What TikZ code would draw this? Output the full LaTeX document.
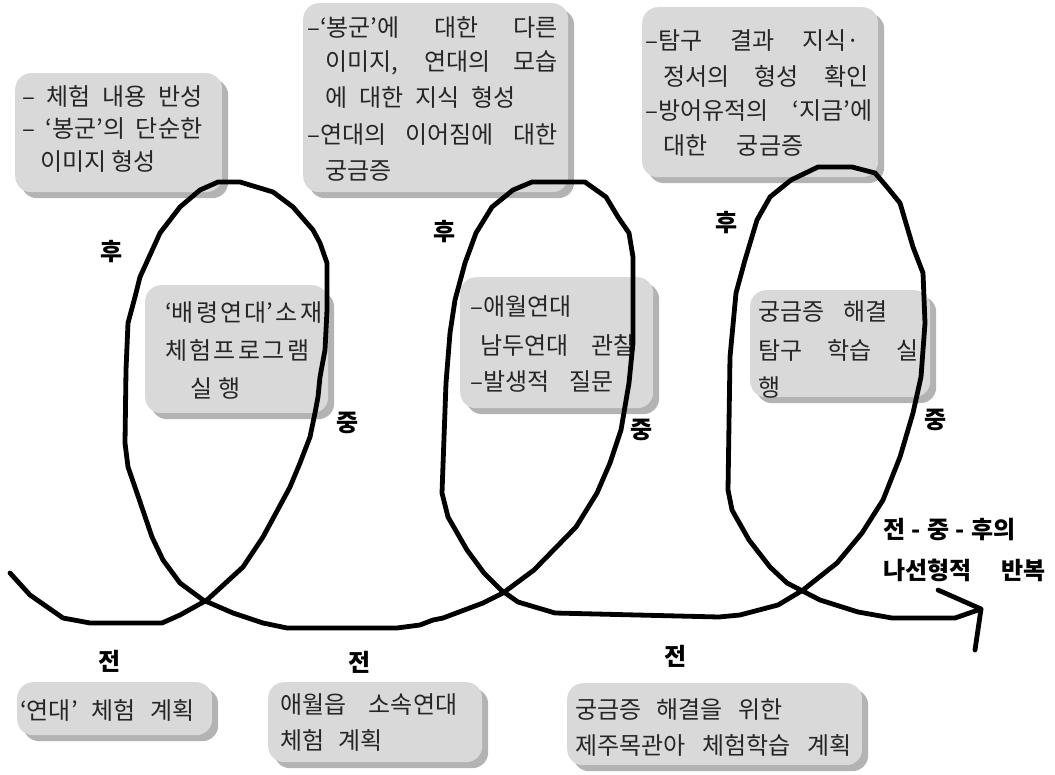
\documentclass[tikz,border=0pt]{standalone}
\usepackage{fontspec}
\setmainfont{Noto Sans CJK KR}
\usetikzlibrary{shadows}
\definecolor{boxc}{HTML}{D9D9D9}
\definecolor{shadowc}{HTML}{B3B3B3}
\newcommand{\J}[2]{\makebox[#1pt][s]{#2}}
\begin{document}
\begin{tikzpicture}[x=1pt,y=-1pt,
  bx/.style={rectangle, rounded corners=16pt, fill=boxc, draw=none, inner sep=0pt, anchor=north west,
    drop shadow={shadow xshift=6pt, shadow yshift=-6pt, fill=shadowc, opacity=1}},
  tl/.style={anchor=west, inner sep=0pt, font=\fontsize{24}{24}\selectfont, text=black!85},
  lab/.style={inner sep=0pt, font=\fontsize{24}{24}\selectfont\bfseries},
  curve/.style={line width=4.8pt, line join=round, line cap=round}]
\useasboundingbox (0,0) rectangle (1055,775);
\fill[white] (0,0) rectangle (1055,775);

% boxes
\node[bx, minimum width=207pt, minimum height=119pt] (b1) at (15,73) {};
\node[bx, minimum width=265pt, minimum height=189pt] (b2) at (303,3) {};
\node[bx, minimum width=236pt, minimum height=170pt] (b3) at (642,7) {};
\node[bx, minimum width=183pt, minimum height=128pt] (b4) at (145,285) {};
\node[bx, minimum width=193pt, minimum height=131pt] (b5) at (460,277) {};
\node[bx, minimum width=180pt, minimum height=107pt] (b6) at (750,290) {};
\node[bx, minimum width=195pt, minimum height=53pt] (b7) at (17,682) {};
\node[bx, minimum width=214pt, minimum height=80pt] (b8) at (268,682) {};
\node[bx, minimum width=295pt, minimum height=82pt] (b9) at (567,683) {};

% box 1
\node[tl] (t1a) at (22,96) {\J{180}{– 체험 내용 반성}};
\node[tl] (t1b) at (22,129) {\J{180}{– ‘봉군’의 단순한}};
\node[tl] (t1c) at (40,161) {이미지 형성};
% box 2
\node[tl] (t2a) at (307,28) {\J{250}{–‘봉군’에 대한 다른}};
\node[tl] (t2b) at (325,63) {\J{232}{이미지, 연대의 모습}};
\node[tl] (t2c) at (325,97) {\J{190}{에 대한 지식 형성}};
\node[tl] (t2d) at (307,135) {\J{250}{–연대의 이어짐에 대한}};
\node[tl] (t2e) at (325,171) {궁금증};
% box 3
\node[tl] (t3a) at (645,41) {\J{215}{–탐구 결과 지식·}};
\node[tl] (t3b) at (663,76) {\J{205}{정서의 형성 확인}};
\node[tl] (t3c) at (645,111) {\J{227}{–방어유적의 ‘지금’에}};
\node[tl] (t3d) at (663,146) {\J{140}{대한 궁금증}};
% box 4
\node[tl] (t4a) at (165,313) {\makebox[157pt][s]{‘배\hfill 령\hfill 연\hfill 대’\hfill 소\hfill 재}};
\node[tl] (t4b) at (165,350) {\makebox[144pt][s]{체\hfill 험\hfill 프\hfill 로\hfill 그\hfill 램}};
\node[tl] (t4c) at (190,388) {\makebox[50pt][s]{실\hfill 행}};
% box 5
\node[tl] (t5a) at (470,307) {–애월연대};
\node[tl] (t5b) at (480,345) {\J{155}{남두연대 관찰}};
\node[tl] (t5c) at (470,382) {\J{143}{–발생적 질문}};
% box 6
\node[tl] (t6a) at (758,312) {\J{129}{궁금증 해결}};
\node[tl] (t6b) at (758,350) {\J{160}{탐구 학습 실}};
\node[tl] (t6c) at (758,387) {행};
% box 7
\node[tl] (t7a) at (20,710) {\J{174}{‘연대’ 체험 계획}};
% box 8
\node[tl] (t8a) at (280,705) {\J{177}{애월읍 소속연대}};
\node[tl] (t8b) at (280,740) {\J{102}{체험 계획}};
% box 9
\node[tl] (t9a) at (575,710) {\J{207}{궁금증 해결을 위한}};
\node[tl] (t9b) at (575,745) {\J{276}{제주목관아 체험학습 계획}};

% labels
\node[lab] (h1) at (112,252) {후};
\node[lab] (h2) at (445,232) {후};
\node[lab] (h3) at (727,223) {후};
\node[lab] (m1) at (348,423) {중};
\node[lab] (m2) at (642,430) {중};
\node[lab] (m3) at (936,420) {중};
\node[lab] (s1) at (110,661) {전};
\node[lab] (s2) at (360,662) {전};
\node[lab] (s3) at (676,656) {전};
\node[lab, anchor=west] (r1) at (883,530) {\makebox[132pt][s]{전\hfill -\hfill 중\hfill -\hfill 후의}};
\node[lab, anchor=west] (r2) at (883,570) {\makebox[162pt][s]{나선형적 반복}};

% spiral
\draw[curve] (10,573) coordinate (start) -- (30,595) -- (63,618) -- (90,623) -- (162,623) -- (180,615) -- (207,600)
 -- (243,567) -- (263,537) -- (283,500) -- (290,487) -- (300,463) -- (310,437) -- (315,413) -- (318,397)
 -- (320,377) -- (325,350) -- (327,310) -- (327,263) -- (320,243) -- (313,230) -- (293,207) -- (273,192)
 -- (240,182) -- (218,182) -- (200,190) -- (180,207) -- (160,233) -- (140,277) -- (135,297) -- (128,323)
 -- (126,370) -- (125,443) -- (128,467) -- (137,493) -- (152,537) -- (163,560) -- (180,583) -- (203,600)
 -- (233,613) -- (263,623) -- (287,628) -- (397,628) -- (420,625) -- (433,620) -- (443,618) -- (483,603)
 -- (503,593) -- (534,570) -- (576,527) -- (597,493) -- (610,463) -- (621,430) -- (629,383) -- (633,343)
 -- (633,257) -- (629,233) -- (618,217) -- (606,197) -- (585,182) -- (532,182) -- (513,190) -- (492,207)
 -- (476,233) -- (465,263) -- (455,300) -- (450,333) -- (446,383) -- (442,493) -- (448,517) -- (467,550)
 -- (484,573) -- (501,590) -- (518,602) -- (555,613) -- (719,617) -- (740,615) -- (778,605) -- (803,590)
 -- (837,563) -- (862,533) -- (883,500) -- (900,457) -- (913,413) -- (921,377) -- (925,323) -- (923,273)
 -- (913,247) -- (900,203) -- (887,187) -- (875,173) -- (852,167) -- (818,167) -- (791,180) -- (770,197)
 -- (757,220) -- (745,260) -- (736,293) -- (730,357) -- (728,490) -- (732,510) -- (749,540) -- (770,567)
 -- (787,583) -- (820,600) -- (858,612) -- (892,618) -- (955,618) -- (981,609) coordinate (tip);
\coordinate (barbA) at (938,590);
\coordinate (barbB) at (975,650);
\draw[curve] (barbA) -- (tip) -- (barbB);
\end{tikzpicture}
\end{document}
